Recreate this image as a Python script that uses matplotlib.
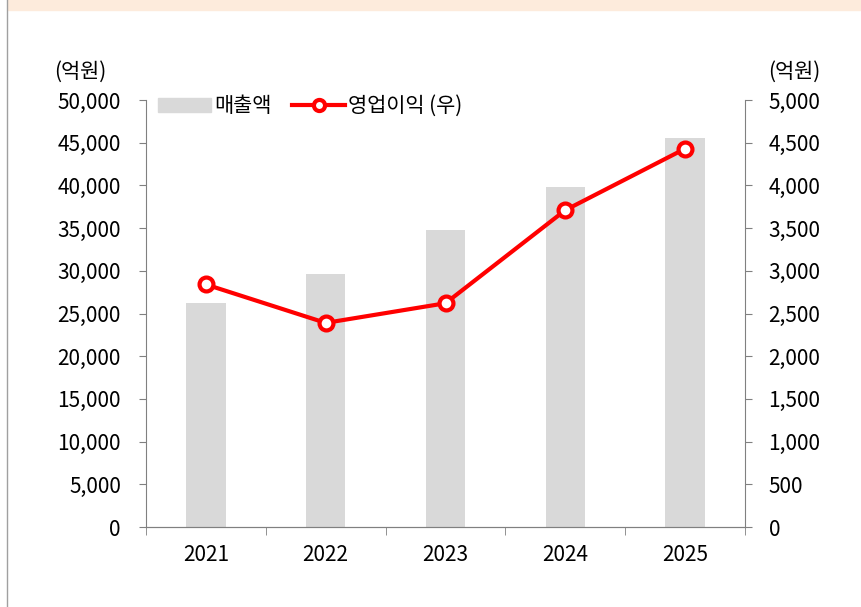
import matplotlib.pyplot as plt
import matplotlib.patches as mpatches
import numpy as np

plt.rcParams['font.family'] = ['Noto Sans CJK KR', 'DejaVu Sans']

years = ['2021', '2022', '2023', '2024', '2025']
sales = [26200, 29600, 34750, 39800, 45550]        # 매출액 (좌)
op_profit = [2840, 2390, 2620, 3710, 4430]         # 영업이익 (우)

FS = 15
SPINE = '#808080'

fig = plt.figure(figsize=(8.62, 6.07), dpi=100)
ax = fig.add_axes([146 / 862, 1 - 527 / 607, 599 / 862, 427 / 607])
ax2 = ax.twinx()

x = np.arange(len(years))
ax.bar(x, sales, width=0.33, color='#d9d9d9', zorder=2)
ax2.plot(x, op_profit, color='#ff0000', lw=3, marker='o', ms=10,
         mfc='white', mec='#ff0000', mew=3, zorder=3)

ax.set_xlim(-0.5, len(years) - 0.5)
ax.set_ylim(0, 50000)
ax2.set_ylim(0, 5000)
ax.set_yticks(np.arange(0, 50001, 5000))
ax2.set_yticks(np.arange(0, 5001, 500))
ax.set_yticklabels([f'{v:,}' for v in range(0, 50001, 5000)], fontsize=FS)
ax2.set_yticklabels([f'{v:,}' for v in range(0, 5001, 500)], fontsize=FS)

ax.set_xticks(x)
ax.set_xticklabels(years, fontsize=FS)
ax.tick_params(axis='x', length=0, pad=12)
ax.set_xticks(np.arange(-0.5, len(years)), minor=True)
ax.tick_params(axis='x', which='minor', length=6, color=SPINE, direction='out')
ax.tick_params(axis='y', length=5, color=SPINE, direction='out', pad=13)
ax2.tick_params(axis='y', length=5, color=SPINE, direction='out', pad=12)

for a in (ax, ax2):
    a.spines['top'].set_visible(False)
    for s in ('left', 'right', 'bottom'):
        a.spines[s].set_color(SPINE)
ax.spines['right'].set_visible(False)
ax2.spines['left'].set_visible(False)

ax.text(-0.11, 1.04, '(억원)', transform=ax.transAxes, fontsize=FS,
        ha='center', va='bottom')
ax2.text(1.082, 1.04, '(억원)', transform=ax2.transAxes, fontsize=FS,
         ha='center', va='bottom')

handles = [mpatches.Patch(color='#d9d9d9'),
           plt.Line2D([], [], color='#ff0000', lw=3, marker='o', ms=8,
                      mfc='white', mec='#ff0000', mew=3)]
ax2.legend(handles, ['매출액', '영업이익 (우)'], loc='upper left',
           bbox_to_anchor=(-0.012, 1.055), ncol=2, frameon=False, fontsize=FS,
           handlelength=2.55, handletextpad=0.15, columnspacing=1.0)

# decorative frame pieces
fig.patches.append(mpatches.Rectangle((8 / 862, 1 - 10 / 607), 1, 10 / 607,
                                      transform=fig.transFigure,
                                      color='#fdebdc', zorder=0))
fig.add_artist(plt.Line2D([7.5 / 862, 7.5 / 862], [0, 1],
                          transform=fig.transFigure, color='#a0a0a0', lw=1))

fig.savefig('out.png', dpi=100)
